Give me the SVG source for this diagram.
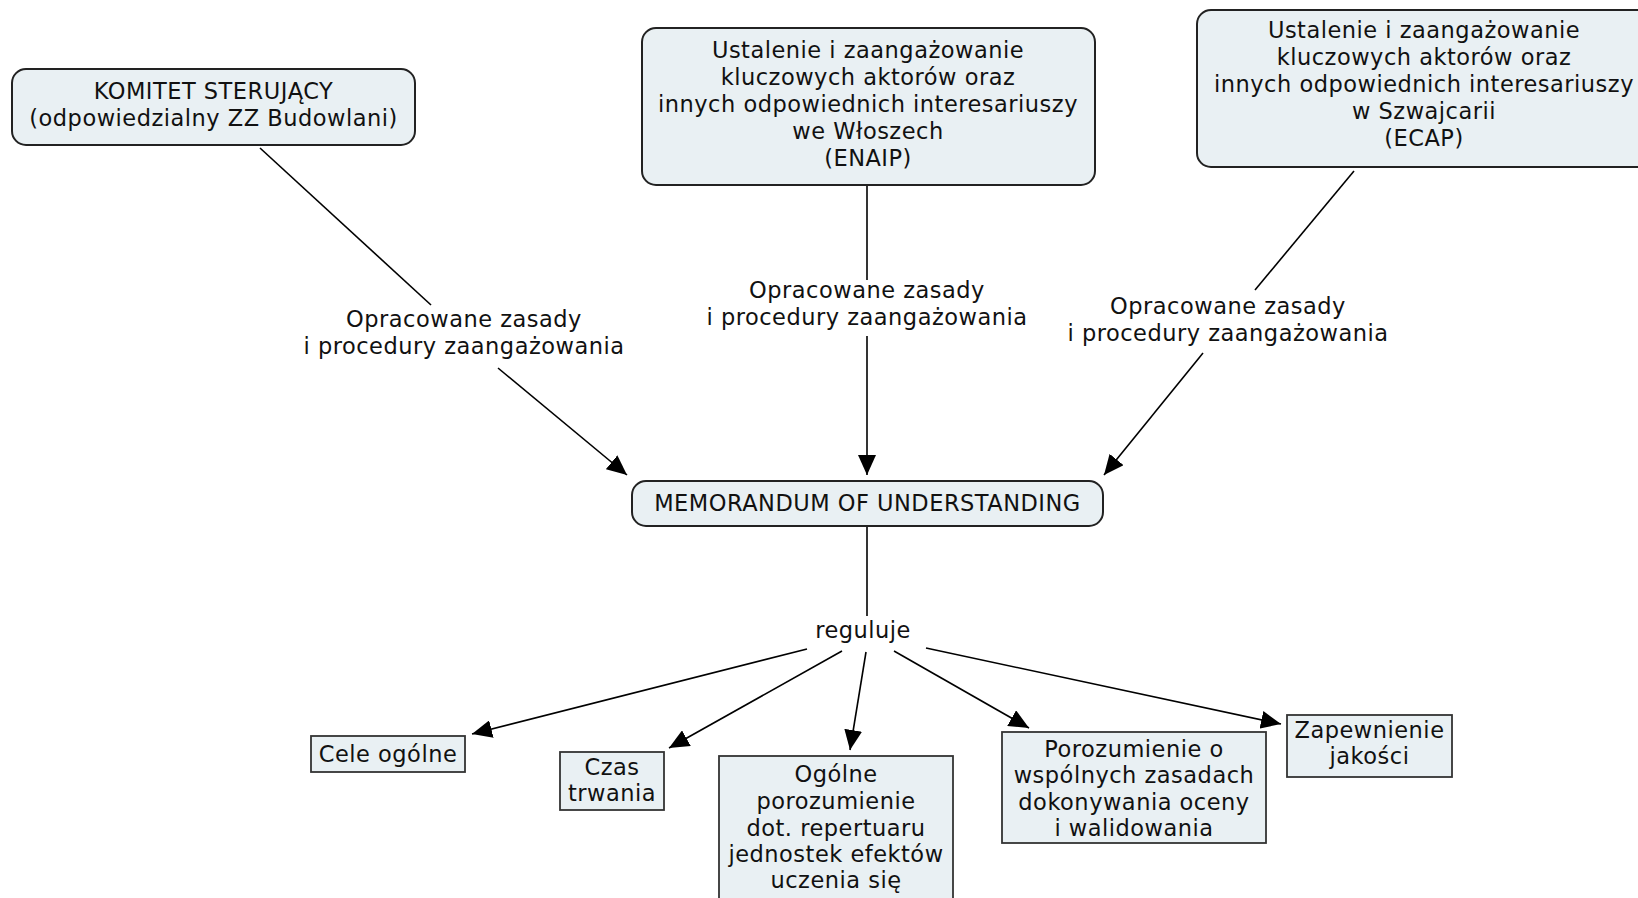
<svg xmlns="http://www.w3.org/2000/svg" width="1638" height="898" viewBox="0 0 1638 898">
<defs>
<marker id="arr" viewBox="0 0 20 18" refX="20" refY="9" markerWidth="20" markerHeight="18" markerUnits="userSpaceOnUse" orient="auto">
<path d="M0,0 L20,9 L0,18 z" fill="#000"/>
</marker>
<style>
text{font-family:"DejaVu Sans","Verdana",sans-serif;font-size:22.5px;fill:#111;text-anchor:middle;letter-spacing:0.5px}
.rnode{fill:#e9f0f3;stroke:#222;stroke-width:2}
.snode{fill:#e9f0f3;stroke:#333;stroke-width:1.8}
.conn{stroke:#000;stroke-width:1.6;fill:none}
.arrow{marker-end:url(#arr)}
</style>
</defs>
<rect width="1638" height="898" fill="#fff"/>
<g id="connectors">
<line class="conn" x1="260" y1="148" x2="431" y2="305"/>
<line class="conn arrow" x1="498" y1="368" x2="627" y2="475"/>
<line class="conn" x1="867" y1="186" x2="867" y2="280"/>
<line class="conn arrow" x1="867" y1="336" x2="867" y2="475"/>
<line class="conn" x1="1354" y1="171" x2="1255" y2="290"/>
<line class="conn arrow" x1="1203" y1="353" x2="1104" y2="475"/>
<line class="conn" x1="867" y1="527" x2="867" y2="616"/>
<line class="conn arrow" x1="807" y1="649" x2="472" y2="734"/>
<line class="conn arrow" x1="842" y1="651" x2="669" y2="748"/>
<line class="conn arrow" x1="866" y1="652" x2="850" y2="750"/>
<line class="conn arrow" x1="894" y1="651" x2="1029" y2="728"/>
<line class="conn arrow" x1="926" y1="648" x2="1281" y2="724"/>
<text x="464" y="327">Opracowane zasady</text>
<text x="464" y="354">i procedury zaangażowania</text>
<text x="867" y="298">Opracowane zasady</text>
<text x="867" y="325">i procedury zaangażowania</text>
<text x="1228" y="314">Opracowane zasady</text>
<text x="1228" y="341">i procedury zaangażowania</text>
<text x="863" y="638">reguluje</text>
</g>
<g id="komitet">
<rect class="rnode" x="12" y="69" width="403" height="76" rx="14"/>
<text x="213.5" y="99">KOMITET STERUJĄCY</text>
<text x="213.5" y="126">(odpowiedzialny ZZ Budowlani)</text>
</g>
<g id="enaip">
<rect class="rnode" x="642" y="28" width="453" height="157" rx="14"/>
<text x="868" y="58">Ustalenie i zaangażowanie</text>
<text x="868" y="85">kluczowych aktorów oraz</text>
<text x="868" y="112">innych odpowiednich interesariuszy</text>
<text x="868" y="139">we Włoszech</text>
<text x="868" y="166">(ENAIP)</text>
</g>
<g id="ecap">
<rect class="rnode" x="1197" y="10" width="460" height="157" rx="14"/>
<text x="1424" y="38">Ustalenie i zaangażowanie</text>
<text x="1424" y="65">kluczowych aktorów oraz</text>
<text x="1424" y="92">innych odpowiednich interesariuszy</text>
<text x="1424" y="119">w Szwajcarii</text>
<text x="1424" y="146">(ECAP)</text>
</g>
<g id="mou">
<rect class="rnode" x="632" y="481" width="471" height="45" rx="14"/>
<text x="867.5" y="511">MEMORANDUM OF UNDERSTANDING</text>
</g>
<g id="cele">
<rect class="snode" x="311" y="736" width="154" height="36"/>
<text x="388" y="762">Cele ogólne</text>
</g>
<g id="czas">
<rect class="snode" x="560" y="752" width="104" height="58"/>
<text x="612" y="775">Czas</text>
<text x="612" y="801">trwania</text>
</g>
<g id="ogolne">
<rect class="snode" x="719" y="756" width="234" height="150"/>
<text x="836" y="782">Ogólne</text>
<text x="836" y="809">porozumienie</text>
<text x="836" y="836">dot. repertuaru</text>
<text x="836" y="862">jednostek efektów</text>
<text x="836" y="888">uczenia się</text>
</g>
<g id="porozumienie">
<rect class="snode" x="1002" y="732" width="264" height="111"/>
<text x="1134" y="757">Porozumienie o</text>
<text x="1134" y="783">wspólnych zasadach</text>
<text x="1134" y="810">dokonywania oceny</text>
<text x="1134" y="836">i walidowania</text>
</g>
<g id="jakosc">
<rect class="snode" x="1287" y="715" width="165" height="62"/>
<text x="1369.5" y="738">Zapewnienie</text>
<text x="1369.5" y="764">jakości</text>
</g>
</svg>
